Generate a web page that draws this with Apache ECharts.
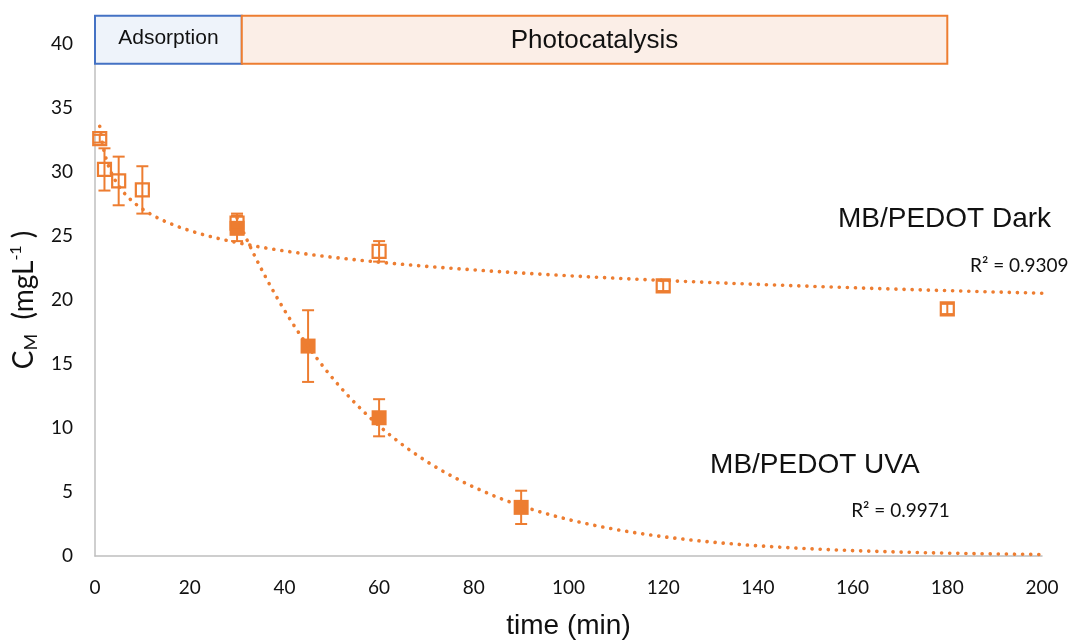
<!DOCTYPE html>
<html>
<head>
<meta charset="utf-8">
<script src="https://cdn.jsdelivr.net/npm/echarts@6/dist/echarts.min.js"></script>
<style>
  html, body { margin: 0; padding: 0; background: #fff; }
  #chart { width: 1080px; height: 640px; }
</style>
</head>
<body>
<div id="chart"></div>
<script>
// MB/PEDOT in the dark (open squares)
const darkTime = [1, 2, 5, 10, 30, 60, 120, 180];
const darkConc = [32.6, 30.2, 29.3, 28.6, 26.0, 23.8, 21.1, 19.3];
const darkErr = [0.3, 1.65, 1.9, 1.85, 0.75, 0.8, 0.4, 0.4];

// MB/PEDOT under UVA (filled squares)
const uvaTime = [30, 45, 60, 90];
const uvaConc = [25.6, 16.4, 10.8, 3.8];
const uvaErr = [1.0, 2.8, 1.45, 1.3];

// phases shown in the banner above the plot (time ranges, min)
const phaseNames = ['Adsorption', 'Photocatalysis'];
const phaseStart = [0, 31];
const phaseEnd = [31, 180];

const seriesNames = ['MB/PEDOT Dark', 'MB/PEDOT UVA'];
const rSquared = ['R² = 0.9309', 'R² = 0.9971'];

const xMin = 0, xMax = 200, xStep = 20;
const yMin = 0, yMax = 40, yStep = 5;

const orange = '#ED7D31';
const axisGrey = '#BFBFBF';
const textColor = '#111';

/**
 * Least squares line: returns [intercept, slope]
 */
function linReg(xs, ys) {
    const n = xs.length;
    const mx = xs.reduce((s, v) => s + v, 0) / n;
    const my = ys.reduce((s, v) => s + v, 0) / n;
    let sxy = 0, sxx = 0;
    for (let i = 0; i < n; i++) {
        sxy += (xs[i] - mx) * (ys[i] - my);
        sxx += (xs[i] - mx) * (xs[i] - mx);
    }
    const b = sxy / sxx;
    return [my - b * mx, b];
}

// power trendline, like Excel: y = a * x^b
function powerFit(xs, ys) {
    const [a, b] = linReg(xs.map(Math.log), ys.map(Math.log));
    return x => Math.exp(a) * Math.pow(x, b);
}

// exponential trendline: y = a * e^(b x)
function expFit(xs, ys) {
    const [a, b] = linReg(xs, ys.map(Math.log));
    return x => Math.exp(a + b * x);
}

function trendPoints(fn, from, to) {
    const pts = [];
    for (let x = from; x <= to + 1e-9; x += 0.5) pts.push([x, fn(x)]);
    return pts;
}

function errorBarSeries(xs, ys, es) {
    return {
        type: 'custom',
        silent: true,
        z: 2,
        encode: { x: 0, y: [1, 2] },
        data: xs.map((x, i) => [x, ys[i] - es[i], ys[i] + es[i]]),
        renderItem: (params, api) => {
            const lo = api.coord([api.value(0), api.value(1)]);
            const hi = api.coord([api.value(0), api.value(2)]);
            const w = 6;
            const style = { stroke: orange, lineWidth: 2 };
            return {
                type: 'group',
                children: [
                    { type: 'line', shape: { x1: lo[0], y1: lo[1], x2: hi[0], y2: hi[1] }, style },
                    { type: 'line', shape: { x1: lo[0] - w, y1: lo[1], x2: lo[0] + w, y2: lo[1] }, style },
                    { type: 'line', shape: { x1: hi[0] - w, y1: hi[1], x2: hi[0] + w, y2: hi[1] }, style }
                ]
            };
        }
    };
}

const darkTrend = powerFit(darkTime, darkConc);
const uvaTrend = expFit(uvaTime, uvaConc);

const trendStyle = { color: orange, width: 3.6, type: [0.1, 8], cap: 'round' };

const chart = echarts.init(document.getElementById('chart'));

chart.setOption({
    animation: false,
    grid: { left: 95, right: 38, top: 44, bottom: 84, outerBoundsMode: 'none', containLabel: false },
    xAxis: {
        type: 'value',
        min: xMin, max: xMax, interval: xStep,
        name: 'time (min)',
        nameLocation: 'middle',
        nameGap: 56,
        nameTextStyle: { fontFamily: 'Liberation Sans', fontSize: 28, color: textColor },
        axisLine: { show: true, lineStyle: { color: axisGrey, width: 1.5 } },
        axisTick: { show: false },
        splitLine: { show: false },
        axisLabel: { margin: 22, fontFamily: 'Lato', fontSize: 19, color: textColor }
    },
    yAxis: {
        type: 'value',
        min: yMin, max: yMax, interval: yStep,
        name: '{t|C}{s|M}{t|  (mgL}{p|-1}{t| )}',
        nameLocation: 'middle',
        nameGap: 55,
        nameTextStyle: {
            rich: {
                t: { fontFamily: 'Lato', fontSize: 28, color: textColor },
                s: { fontFamily: 'Lato', fontSize: 18, color: textColor, verticalAlign: 'bottom', padding: [14, 0, 0, 0] },
                p: { fontFamily: 'Lato', fontSize: 16, color: textColor, verticalAlign: 'top', padding: [0, 0, 12, 0] }
            }
        },
        axisLine: { show: true, lineStyle: { color: axisGrey, width: 1.5 } },
        axisTick: { show: false },
        splitLine: { show: false },
        axisLabel: { margin: 22, fontFamily: 'Lato', fontSize: 19, color: textColor }
    },
    series: [
        errorBarSeries(darkTime, darkConc, darkErr),
        errorBarSeries(uvaTime, uvaConc, uvaErr),
        {
            name: seriesNames[1],
            type: 'scatter',
            z: 3,
            symbol: 'rect',
            symbolSize: 15,
            itemStyle: { color: orange, opacity: 1 },
            data: uvaTime.map((t, i) => [t, uvaConc[i]])
        },
        {
            name: seriesNames[0],
            type: 'scatter',
            z: 4,
            symbol: 'rect',
            symbolSize: 13,
            itemStyle: { color: 'rgba(255,255,255,0)', borderColor: orange, borderWidth: 2.2, opacity: 1 },
            data: darkTime.map((t, i) => [t, darkConc[i]])
        },
        {
            type: 'line',
            z: 5,
            silent: true,
            showSymbol: false,
            lineStyle: trendStyle,
            data: trendPoints(darkTrend, darkTime[0], xMax)
        },
        {
            type: 'line',
            z: 5,
            silent: true,
            showSymbol: false,
            lineStyle: trendStyle,
            data: trendPoints(uvaTrend, uvaTime[0], xMax)
        }
    ]
});

// banner boxes and text annotations, placed in data coordinates
const px = (x, y) => chart.convertToPixel({ gridIndex: 0 }, [x, y]);
const boxTop = 42.2, boxBottom = 38.45;
const boxStyles = [
    { fill: '#EEF3FA', stroke: '#4472C4', size: 21, shift: -2 },
    { fill: '#FBEEE7', stroke: orange, size: 26, shift: 1 }
];

const graphics = [];
phaseNames.forEach((name, i) => {
    const p0 = px(phaseStart[i], boxTop);
    const p1 = px(phaseEnd[i], boxBottom);
    graphics.push({
        type: 'rect',
        z: 10,
        shape: { x: p0[0], y: p0[1], width: p1[0] - p0[0], height: p1[1] - p0[1] },
        style: { fill: boxStyles[i].fill, stroke: boxStyles[i].stroke, lineWidth: 2 }
    });
    graphics.push({
        type: 'text',
        z: 11,
        x: (p0[0] + p1[0]) / 2,
        y: (p0[1] + p1[1]) / 2 + boxStyles[i].shift,
        style: {
            text: name,
            fontFamily: 'Liberation Sans',
            fontSize: boxStyles[i].size,
            fill: textColor,
            align: 'center',
            verticalAlign: 'middle'
        }
    });
});

const labelAt = (text, x, y, size, family) => {
    const p = px(x, y);
    return {
        type: 'text',
        z: 11,
        x: p[0],
        y: p[1],
        style: { text, fontFamily: family, fontSize: size, fill: textColor, align: 'left', verticalAlign: 'middle' }
    };
};

graphics.push(labelAt(seriesNames[0], 156.9, 26.33, 28, 'Liberation Sans'));
graphics.push(labelAt(rSquared[0], 184.8, 22.7, 19, 'Lato'));
graphics.push(labelAt(seriesNames[1], 129.9, 7.07, 28, 'Liberation Sans'));
graphics.push(labelAt(rSquared[1], 159.7, 3.5, 19, 'Lato'));

chart.setOption({ graphic: graphics });
</script>
</body>
</html>
